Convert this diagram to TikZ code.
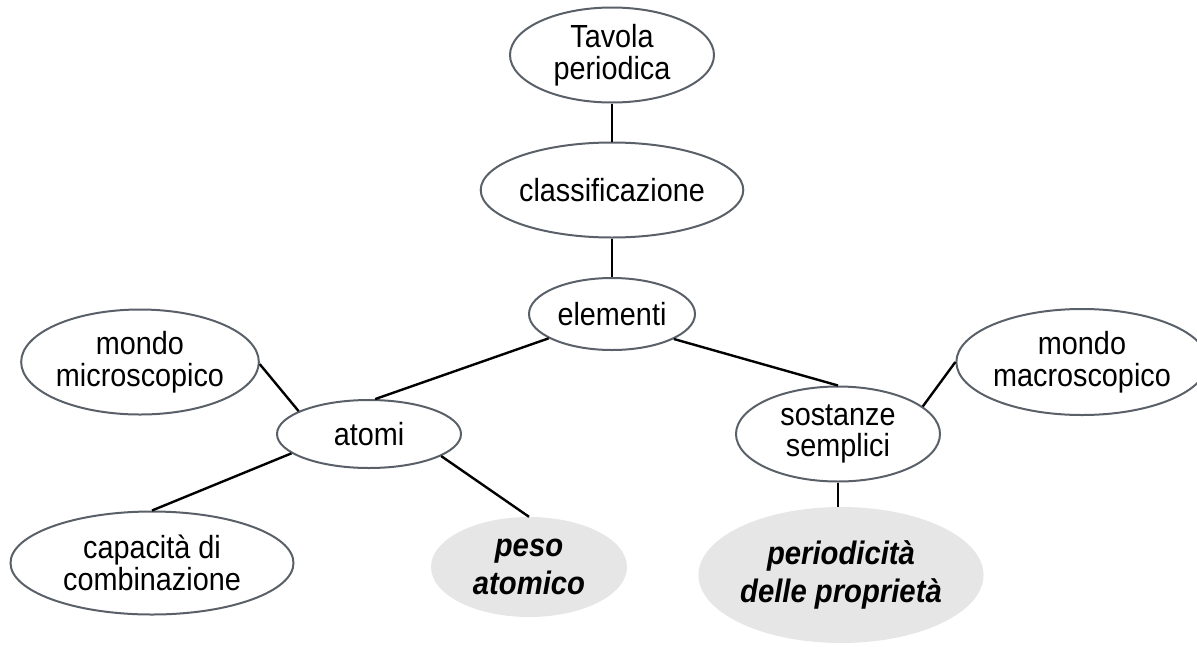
\documentclass[tikz,border=0pt]{standalone}
\usepackage{fontspec}
\setmainfont{Liberation Sans}[FakeStretch=0.9]
\usetikzlibrary{shapes.geometric}
\definecolor{edgegray}{HTML}{5A6068}
\definecolor{hlfill}{HTML}{E6E6E6}
\begin{document}
\begin{tikzpicture}[x=1pt,y=-1pt,
  concept/.style={ellipse, draw=edgegray, line width=2pt, inner sep=0pt, align=center,
    font=\fontsize{32}{31.5}\selectfont},
  focus/.style={ellipse, fill=hlfill, inner sep=0pt, align=center,
    font=\fontsize{32.5}{38}\selectfont\bfseries\itshape},
  link/.style={line width=2.4pt, draw=black}]
\useasboundingbox (0,0) rectangle (1197,646);
\node[concept, minimum width=204pt, minimum height=95pt] (tavola) at (612,55) {Tavola\\periodica};
\node[concept, minimum width=230pt, minimum height=95pt] (class) at (612,190) {classificazione};
\node[concept, minimum width=166pt, minimum height=72pt] (elem) at (612,314) {elementi};
\node[concept, minimum width=184pt, minimum height=68pt] (atomi) at (369,434) {atomi};
\node[concept, minimum width=227pt, minimum height=105pt] (micro) at (140,362) {mondo\\microscopico};
\node[concept, minimum width=283pt, minimum height=103pt] (capa) at (152,563) {capacità di\\combinazione};
\node[focus, minimum width=196pt, minimum height=100pt] (peso) at (529,567) {peso\\atomico};
\node[concept, minimum width=204pt, minimum height=95pt] (sost) at (838,434) {sostanze\\semplici};
\node[concept, minimum width=228pt, minimum height=106pt] (macro) at (1082,362) {mondo\\macroscopico};
\node[focus, minimum width=244pt, minimum height=136pt] (perio) at (841,575) {periodicità\\delle proprietà};
\draw[link] (tavola.south) -- (class.north);
\draw[link] (class.south) -- (elem.north);
\draw[link] (elem.201) -- (atomi.80);
\draw[link] (elem.338) -- (sost.north);
\draw[link] (atomi.162) -- (micro.359);
\draw[link] (atomi.194) -- (capa.north);
\draw[link] (atomi.343) -- (peso.north);
\draw[link] (sost.18) -- (macro.west);
\draw[link] (sost.south) -- (sost.south |- perio.north);
\end{tikzpicture}
\end{document}
